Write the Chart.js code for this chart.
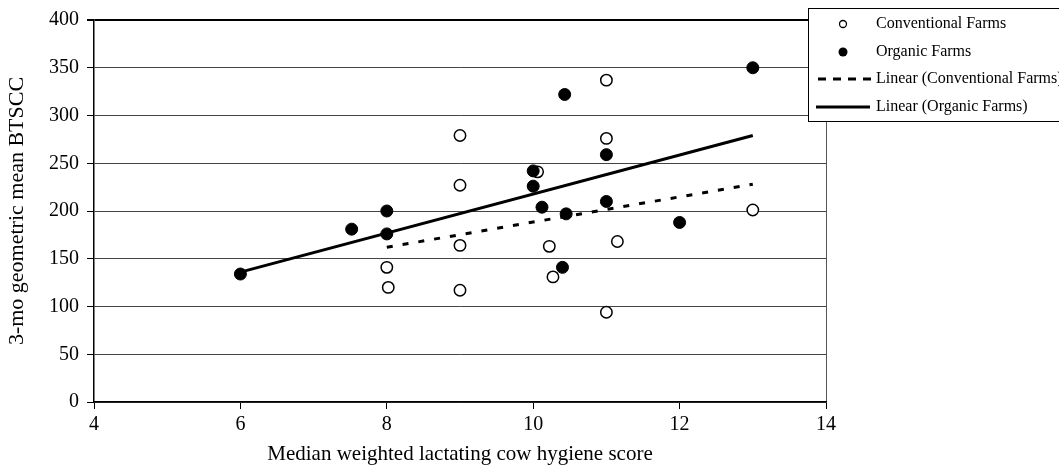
<!DOCTYPE html>
<html lang="en">
<head>
  <meta charset="UTF-8" />
  <title>BTSCC vs cow hygiene score</title>
  <script src="https://cdn.jsdelivr.net/npm/chart.js"></script>
  <style>
    body { margin: 0; background: #fff; }
    #chart { display: block; }
  </style>
</head>
<body>
<canvas id="chart" width="1059" height="470"></canvas>
<script>
  // values
  const xTicks = [4, 6, 8, 10, 12, 14];
  const yTicks = [0, 50, 100, 150, 200, 250, 300, 350, 400];

  const convX = [11, 9, 11, 10.06, 9, 8, 8.02, 9, 9, 10.22, 10.27, 11.15, 11, 13];
  const convY = [337, 279, 276, 241, 227, 141, 120, 164, 117, 163, 131, 168, 94, 201];

  const orgX = [6, 7.52, 8, 8, 10, 10, 10.12, 10.45, 10.43, 11, 11, 10.4, 12, 13];
  const orgY = [134, 181, 200, 176, 242, 226, 204, 197, 322, 259, 210, 141, 188, 350];

  const convTrendX = [8, 13];
  const convTrendY = [162, 228];
  const orgTrendX = [6, 13];
  const orgTrendY = [136, 279];

  const xTitle = 'Median weighted lactating cow hygiene score';
  const yTitle = '3-mo geometric mean BTSCC';

  function pts(xs, ys) {
    return xs.map((x, i) => ({ x: x, y: ys[i] }));
  }

  Chart.defaults.font.family = "'Liberation Serif', 'DejaVu Serif', serif";
  Chart.defaults.color = '#000';

  // legend drawn as a box that sits over the top right corner
  const legendBox = {
    id: 'legendBox',
    afterDraw(chart) {
      const c = chart.ctx;
      const ds = chart.data.datasets;
      const rows = [24, 52, 79, 107];
      c.save();
      c.fillStyle = '#fff';
      c.fillRect(808, 8, 260, 114);
      c.strokeStyle = '#000';
      c.lineWidth = 1;
      c.strokeRect(808.5, 8.5, 260, 113);

      // open circle
      c.beginPath();
      c.arc(843, rows[0], 3.5, 0, Math.PI * 2);
      c.fillStyle = '#fff';
      c.fill();
      c.lineWidth = 1.3;
      c.stroke();
      // filled circle
      c.beginPath();
      c.arc(843, rows[1], 4.5, 0, Math.PI * 2);
      c.fillStyle = '#000';
      c.fill();
      // dashed line
      c.lineWidth = 3;
      c.setLineDash([8, 7]);
      c.beginPath();
      c.moveTo(818, rows[2]);
      c.lineTo(872, rows[2]);
      c.stroke();
      // solid line
      c.setLineDash([]);
      c.beginPath();
      c.moveTo(816, rows[3]);
      c.lineTo(870, rows[3]);
      c.stroke();

      c.fillStyle = '#000';
      c.font = "16px 'Liberation Serif', serif";
      c.textBaseline = 'middle';
      c.textAlign = 'left';
      ds.forEach((d, i) => c.fillText(d.label, 876, rows[i]));
      c.restore();
    }
  };

  new Chart(document.getElementById('chart'), {
    type: 'scatter',
    data: {
      datasets: [
        {
          label: 'Conventional Farms',
          data: pts(convX, convY),
          pointRadius: 5.7,
          pointBorderWidth: 1.5,
          pointBackgroundColor: '#fff',
          pointBorderColor: '#000',
          order: 2
        },
        {
          label: 'Organic Farms',
          data: pts(orgX, orgY),
          pointRadius: 6,
          pointBorderWidth: 1,
          pointBackgroundColor: '#000',
          pointBorderColor: '#000',
          order: 1
        },
        {
          label: 'Linear (Conventional Farms)',
          type: 'line',
          data: pts(convTrendX, convTrendY),
          borderColor: '#000',
          borderWidth: 3,
          borderDash: [6, 10],
          pointRadius: 0,
          fill: false,
          order: 0
        },
        {
          label: 'Linear (Organic Farms)',
          type: 'line',
          data: pts(orgTrendX, orgTrendY),
          borderColor: '#000',
          borderWidth: 3,
          pointRadius: 0,
          fill: false,
          order: 0
        }
      ]
    },
    options: {
      responsive: false,
      animation: false,
      devicePixelRatio: 1,
      layout: { padding: { left: 0, right: 233, top: 17, bottom: 0 } },
      plugins: {
        legend: { display: false },
        tooltip: { enabled: false }
      },
      scales: {
        x: {
          type: 'linear',
          min: 4,
          max: 14,
          afterBuildTicks: s => { s.ticks = xTicks.map(v => ({ value: v })); },
          afterFit: s => { s.height = 68; },
          ticks: { font: { size: 20 }, padding: 4 },
          grid: {
            color: ctx => (ctx.tick && ctx.tick.value === 14) ? '#555' : 'rgba(0,0,0,0)',
            tickColor: '#000',
            tickLength: 7,
            lineWidth: 1
          },
          border: { color: '#000', width: 1.5 },
          title: { display: true, text: xTitle, font: { size: 21 }, padding: { top: 0, bottom: 3 } }
        },
        y: {
          min: 0,
          max: 400,
          afterBuildTicks: s => { s.ticks = yTicks.map(v => ({ value: v })); },
          afterFit: s => { s.width = 94; },
          ticks: { font: { size: 20 }, padding: 8 },
          grid: {
            color: ctx => (ctx.tick && ctx.tick.value === 400) ? '#000' : '#444',
            lineWidth: ctx => (ctx.tick && ctx.tick.value === 400) ? 2 : 1,
            tickColor: '#000',
            tickLength: 7
          },
          border: { color: '#000', width: 1.5 },
          title: { display: true, text: yTitle, font: { size: 22 }, padding: { top: 4, bottom: 0 } }
        }
      }
    },
    plugins: [legendBox]
  });
</script>
</body>
</html>
